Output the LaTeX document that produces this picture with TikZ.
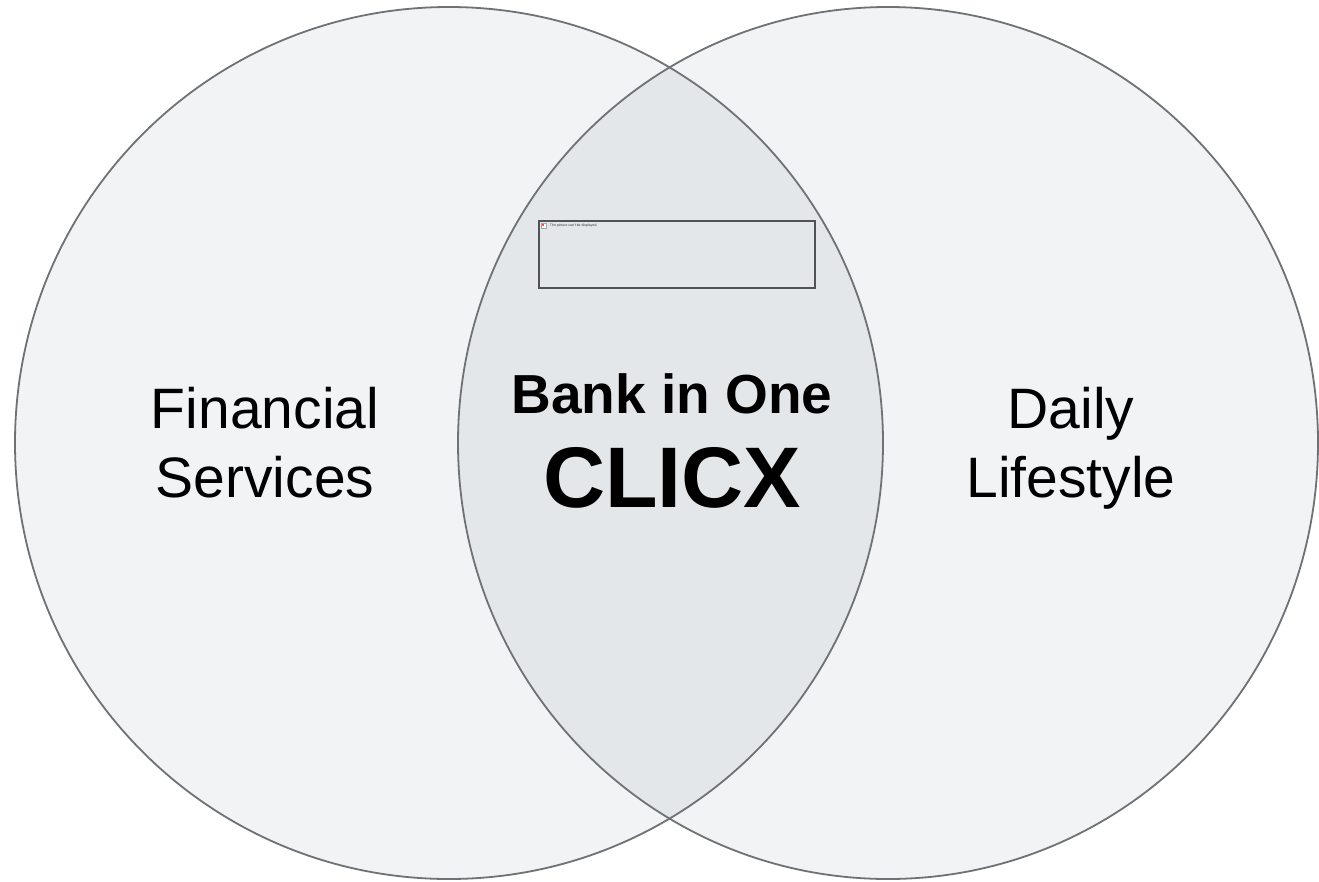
\documentclass[tikz,border=0pt]{standalone}
\usepackage{fontspec}
\setmainfont{Liberation Sans}
\definecolor{circfill}{HTML}{F2F3F4}
\definecolor{lensfill}{HTML}{E4E7EA}
\definecolor{circline}{HTML}{6E7274}
\definecolor{boxline}{HTML}{505254}
\tikzset{
  circstroke/.style={draw=circline, line width=1.8pt},
  label/.style={align=center, text=black, inner sep=0pt},
  regtext/.style={label, font=\fontsize{57}{69}\selectfont},
}
\begin{document}
\begin{tikzpicture}[x=1pt,y=-1pt]
\useasboundingbox (0,0) rectangle (1319,881);
\clip (0,0) rectangle (1319,881);
\fill[white] (0,0) rectangle (1319,881);
% circles
\fill[circfill] (449,443) ellipse [x radius=434, y radius=436];
\fill[circfill] (888,443) ellipse [x radius=430, y radius=436];
\begin{scope}
  \clip (449,443) ellipse [x radius=434, y radius=436];
  \fill[lensfill] (888,443) ellipse [x radius=430, y radius=436];
\end{scope}
\draw[circstroke] (449,443) ellipse [x radius=434, y radius=436];
\draw[circstroke] (888,443) ellipse [x radius=430, y radius=436];
% placeholder picture box
\node[draw=boxline, line width=1.3pt, fill=lensfill, minimum width=276pt, minimum height=67pt, inner sep=0pt] (pic) at (677,254.5) {};
\node[draw=gray!70, fill=white, minimum size=5pt, inner sep=0pt, anchor=north west] (icon) at ([shift={(3pt,-3pt)}]pic.north west) {};
\fill[red!70] ([shift={(1pt,-1pt)}]icon.north west) rectangle ([shift={(3pt,-3pt)}]icon.north west);
\node[anchor=west, inner sep=0pt, font=\fontsize{3.5}{4}\selectfont, text=black!80] (pictext) at ([xshift=3pt]icon.east) {The picture can't be displayed.};
% labels
\node[regtext, anchor=base] (fin) at (265,497) {Financial\\Services};
\node[regtext, anchor=base] (daily) at (1071,497) {Daily\\Lifestyle};
\node[label, font=\bfseries\fontsize{55}{60}\selectfont, anchor=base] (bank) at (672,413) {Bank in One};
\node[label, font=\bfseries\fontsize{86}{90}\selectfont, anchor=base] (clicx) at (672,507) {CLICX};
\end{tikzpicture}
\end{document}
